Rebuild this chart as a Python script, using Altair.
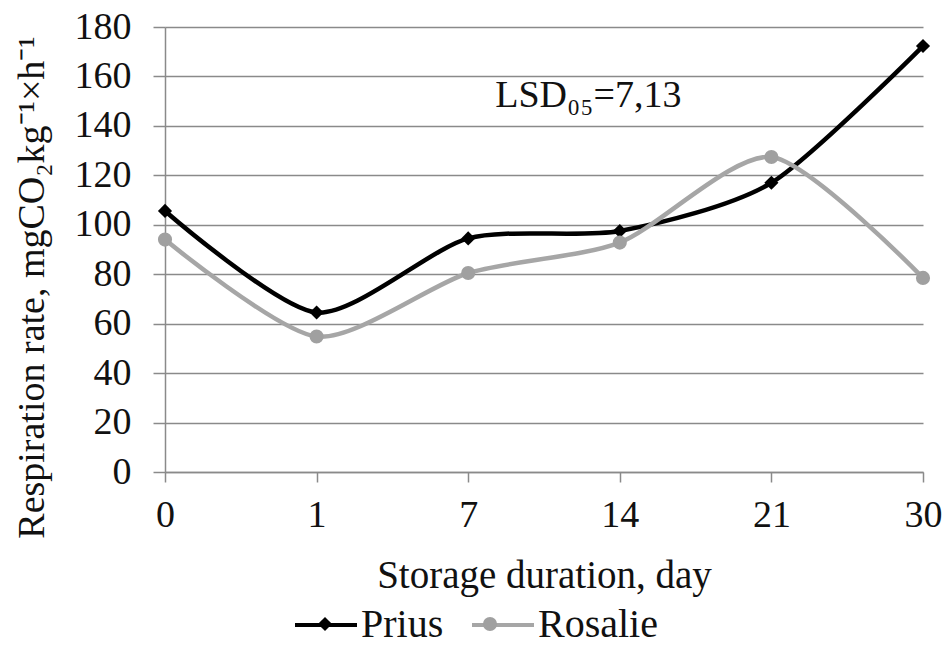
import altair as alt
import pandas as pd

days = ["0", "1", "7", "14", "21", "30"]
prius = [105.6, 64.5, 94.5, 97.5, 117.0, 172.3]
rosalie = [94.0, 54.8, 80.5, 92.8, 127.4, 78.5]
series_names = ["Prius", "Rosalie"]
y_ticks = [0, 20, 40, 60, 80, 100, 120, 140, 160, 180]
lsd_label = "LSD₀₅=7,13"

line_colors = ["#000000", "#a6a6a6"]
marker_colors = ["#000000", "#a0a0a0"]
marker_shapes = ["diamond", "circle"]

rows = []
for d, p, r in zip(days, prius, rosalie):
    rows.append({"day": d, "value": p, "series": "Prius"})
    rows.append({"day": d, "value": r, "series": "Rosalie"})
df = pd.DataFrame(rows)
ann = pd.DataFrame([{"day": "7", "value": 147.6, "label": lsd_label}])

FONT = "Liberation Serif"
GRID = "#8a8a8a"
TXT = "#111111"

x_enc = alt.X(
    "day:N",
    scale=alt.Scale(type="point", domain=days, padding=0),
    sort=days,
    axis=alt.Axis(
        title="Storage duration, day",
        labelAngle=0,
        grid=False,
        tickSize=10,
        tickColor=GRID,
        tickWidth=1.5,
        domainColor=GRID,
        domainWidth=1.5,
        labelFont=FONT,
        labelFontSize=38,
        labelColor=TXT,
        labelPadding=14,
        titleFont=FONT,
        titleFontSize=39,
        titleFontWeight="normal",
        titleColor=TXT,
        titleY=115,
        titleBaseline="alphabetic",
    ),
)
y_enc = alt.Y(
    "value:Q",
    scale=alt.Scale(domain=[0, 180], nice=False),
    axis=alt.Axis(
        title="Respiration rate, mgCO₂kg⁻¹×h⁻¹",
        values=y_ticks,
        grid=True,
        gridColor=GRID,
        gridWidth=1.5,
        tickSize=12,
        tickColor=GRID,
        tickWidth=1.5,
        domainColor=GRID,
        domainWidth=1.5,
        labelFont=FONT,
        labelFontSize=38,
        labelColor=TXT,
        labelPadding=22,
        titleFont=FONT,
        titleFontSize=38,
        titleFontWeight="normal",
        titleColor=TXT,
        titleX=-122,
        titleY=260,
        titleBaseline="alphabetic",
    ),
)

LEG_X = 128
common_leg = dict(
    title=None,
    orient="none",
    legendX=LEG_X,
    direction="horizontal",
    labelFont=FONT,
    labelFontSize=40,
    labelColor=TXT,
    labelOffset=2,
)

# line legend: 62px stroke segments with the visible labels
lines = (
    alt.Chart(df)
    .transform_calculate(name="datum.series")
    .mark_line(strokeWidth=4.5, interpolate="cardinal", tension=0.25)
    .encode(
        x=x_enc,
        y=y_enc,
        stroke=alt.Stroke(
            "name:N",
            scale=alt.Scale(range=line_colors),
            legend=alt.Legend(
                symbolType="stroke", symbolSize=3844, symbolStrokeWidth=4,
                columnPadding=20, legendY=565, **common_leg
            ),
        ),
    )
)

# marker legend: small markers placed onto the middle of the line segments
marker_leg = dict(
    symbolSize=200, symbolOffset=12, columnPadding=28, labelOpacity=0, legendY=577, **common_leg
)
points = alt.Chart(df).mark_point(filled=True, size=200, opacity=1).encode(
    x=x_enc,
    y=y_enc,
    color=alt.Color(
        "series:N",
        scale=alt.Scale(domain=series_names, range=marker_colors),
        legend=alt.Legend(**marker_leg),
    ),
    shape=alt.Shape(
        "series:N",
        scale=alt.Scale(domain=series_names, range=marker_shapes),
        legend=alt.Legend(**marker_leg),
    ),
)

text = alt.Chart(ann).mark_text(
    align="left", baseline="alphabetic", dx=27, font=FONT, fontSize=38, color=TXT
).encode(x=x_enc, y=y_enc, text="label:N")

chart = (
    alt.layer(lines, points, text)
    .properties(
        width=758,
        height=445,
        autosize=alt.AutoSizeParams(type="none"),
        padding={"left": 157, "top": 19, "right": 21, "bottom": 168},
        background="white",
    )
    .configure_view(stroke=None)
)

chart.save("out.html", embed_options={"renderer": "svg", "actions": False})
